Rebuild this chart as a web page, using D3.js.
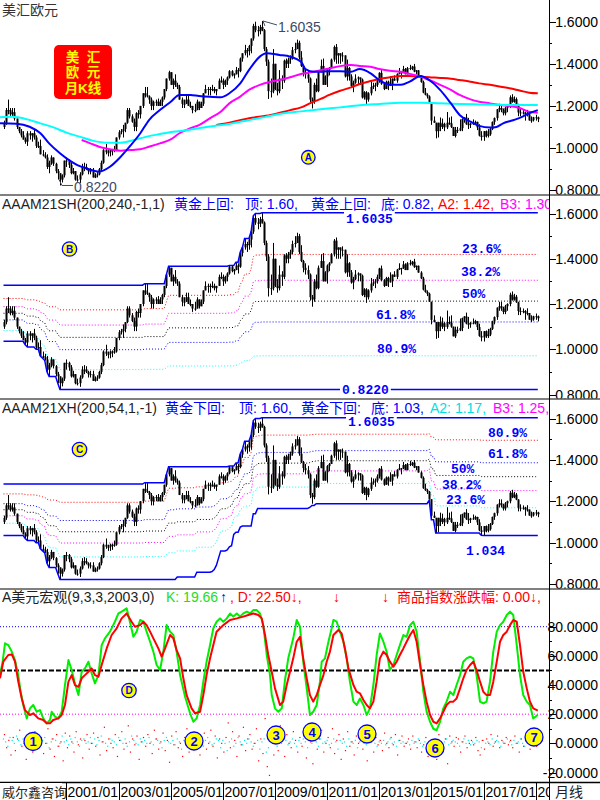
<!DOCTYPE html>
<html>
<head>
<meta charset="utf-8">
<script src="https://cdn.jsdelivr.net/npm/d3@7/dist/d3.min.js"></script>
<style>
html,body{margin:0;padding:0;background:#fff;}
svg{display:block;}
text{font-family:"Liberation Sans",Arial,"Noto Sans CJK SC",sans-serif;}
.mono{font-family:"Liberation Mono","DejaVu Sans Mono",monospace;font-weight:bold;}
.cjk{font-family:"Noto Sans CJK SC","Liberation Sans",sans-serif;}
</style>
</head>
<body>
<svg id="chart" width="600" height="800"></svg>
<script>
// ---------------- data ----------------
// Monthly EUR/USD bars, first bar 1998/08; each bar opens at the previous close.
const firstOpen = 1.10;
const highs = [
  1.13,1.19,1.23,1.19,1.19,
  1.19,1.14,1.10,1.09,1.08,1.05,1.08,1.08,1.07,1.09,1.06,1.03,
  1.04,0.99,0.98,0.97,0.94,0.965,0.955,0.93,0.90,0.88,0.875,0.94,
  0.955,0.945,0.93,0.905,0.89,0.87,0.885,0.925,0.93,0.925,0.905,0.905,
  0.905,0.88,0.885,0.905,0.94,0.995,1.02,0.99,0.995,0.995,1.01,1.05,
  1.085,1.09,1.11,1.12,1.19,1.19,1.16,1.14,1.17,1.18,1.20,1.26,
  1.29,1.29,1.25,1.24,1.225,1.23,1.235,1.23,1.245,1.28,1.33,1.367,
  1.36,1.33,1.35,1.31,1.30,1.24,1.23,1.25,1.25,1.22,1.20,1.21,
  1.23,1.22,1.22,1.26,1.30,1.29,1.29,1.30,1.29,1.28,1.33,1.34,
  1.33,1.325,1.34,1.37,1.37,1.355,1.385,1.38,1.43,1.45,1.49,1.475,
  1.49,1.52,1.59,1.60,1.58,1.585,1.6035,1.565,1.48,1.42,1.33,1.47,
  1.40,1.31,1.37,1.345,1.42,1.425,1.43,1.44,1.48,1.50,1.515,1.51,
  1.46,1.395,1.38,1.37,1.335,1.24,1.31,1.33,1.37,1.42,1.425,1.345,
  1.375,1.385,1.425,1.487,1.494,1.45,1.45,1.455,1.44,1.42,1.385,1.35,
  1.32,1.35,1.34,1.335,1.33,1.27,1.27,1.265,1.315,1.31,1.31,1.33,
  1.36,1.37,1.31,1.32,1.32,1.34,1.33,1.345,1.355,1.38,1.36,1.39,
  1.38,1.385,1.395,1.39,1.3995,1.37,1.37,1.345,1.32,1.285,1.26,1.25,
  1.21,1.15,1.12,1.12,1.145,1.14,1.12,1.171,1.145,1.15,1.10,1.10,
  1.10,1.136,1.14,1.146,1.162,1.143,1.12,1.136,1.13,1.125,1.113,1.08,
  1.08,1.083,1.09,1.095,1.126,1.145,1.185,1.21,1.209,1.188,1.196,1.203,
  1.25,1.2555,1.245,1.24,1.21,1.185,1.18,1.173,1.181,1.16,1.15,1.148,
  1.158,1.149
];
const lows = [
  1.09,1.11,1.16,1.15,1.15,
  1.13,1.09,1.07,1.05,1.04,1.02,1.01,1.04,1.03,1.04,1.00,1.00,
  0.97,0.96,0.95,0.90,0.88,0.92,0.915,0.88,0.85,0.822,0.836,0.86,
  0.91,0.905,0.875,0.875,0.845,0.84,0.834,0.87,0.89,0.895,0.875,0.875,
  0.86,0.857,0.86,0.87,0.89,0.925,0.97,0.96,0.96,0.965,0.98,0.985,
  1.04,1.065,1.05,1.075,1.115,1.14,1.12,1.08,1.08,1.14,1.14,1.19,
  1.24,1.24,1.21,1.18,1.18,1.20,1.20,1.20,1.20,1.23,1.27,1.32,
  1.30,1.28,1.29,1.28,1.23,1.19,1.19,1.21,1.20,1.19,1.165,1.17,
  1.18,1.18,1.19,1.20,1.26,1.25,1.25,1.27,1.26,1.25,1.28,1.31,
  1.28,1.29,1.30,1.33,1.34,1.33,1.35,1.335,1.36,1.41,1.44,1.43,
  1.44,1.45,1.51,1.55,1.53,1.54,1.555,1.46,1.39,1.233,1.24,1.26,
  1.275,1.25,1.26,1.28,1.31,1.38,1.38,1.40,1.42,1.45,1.47,1.42,
  1.385,1.34,1.33,1.31,1.215,1.188,1.21,1.265,1.265,1.36,1.30,1.30,
  1.29,1.345,1.38,1.41,1.40,1.40,1.40,1.41,1.335,1.32,1.32,1.29,
  1.265,1.305,1.30,1.30,1.235,1.23,1.205,1.22,1.25,1.28,1.27,1.29,
  1.31,1.30,1.275,1.28,1.275,1.295,1.275,1.32,1.31,1.35,1.33,1.355,
  1.35,1.35,1.37,1.37,1.36,1.35,1.338,1.31,1.26,1.25,1.235,1.21,
  1.11,1.12,1.046,1.05,1.08,1.09,1.08,1.09,1.11,1.095,1.057,1.05,
  1.071,1.08,1.08,1.12,1.11,1.09,1.095,1.11,1.11,1.085,1.055,1.035,
  1.034,1.05,1.05,1.058,1.085,1.11,1.13,1.17,1.17,1.155,1.155,1.17,
  1.19,1.215,1.215,1.205,1.151,1.151,1.159,1.13,1.15,1.13,1.12,1.126,
  1.13,1.123
];
const closes = [
  1.12,1.18,1.18,1.16,1.17,
  1.14,1.10,1.08,1.06,1.04,1.03,1.07,1.06,1.07,1.05,1.01,1.01,
  0.97,0.965,0.955,0.91,0.93,0.955,0.925,0.89,0.88,0.85,0.87,0.94,
  0.94,0.92,0.88,0.89,0.85,0.85,0.875,0.91,0.91,0.90,0.89,0.89,
  0.86,0.87,0.875,0.90,0.93,0.99,0.98,0.98,0.99,0.99,0.99,1.05,
  1.075,1.08,1.09,1.12,1.18,1.15,1.125,1.10,1.165,1.16,1.20,1.26,
  1.25,1.245,1.23,1.20,1.22,1.22,1.20,1.22,1.24,1.28,1.33,1.36,
  1.30,1.32,1.30,1.29,1.23,1.21,1.21,1.23,1.20,1.20,1.18,1.18,
  1.22,1.19,1.21,1.26,1.28,1.28,1.28,1.28,1.27,1.28,1.32,1.32,
  1.30,1.32,1.335,1.365,1.345,1.35,1.37,1.365,1.425,1.45,1.465,1.46,
  1.485,1.52,1.58,1.56,1.555,1.575,1.56,1.47,1.41,1.27,1.27,1.40,
  1.28,1.27,1.33,1.32,1.415,1.40,1.42,1.43,1.465,1.47,1.50,1.43,
  1.39,1.36,1.35,1.33,1.23,1.22,1.30,1.27,1.36,1.39,1.30,1.34,
  1.37,1.38,1.42,1.48,1.44,1.45,1.44,1.44,1.34,1.38,1.34,1.295,
  1.31,1.33,1.335,1.325,1.24,1.265,1.23,1.26,1.29,1.295,1.30,1.32,
  1.357,1.305,1.28,1.315,1.30,1.30,1.33,1.32,1.352,1.359,1.359,1.375,
  1.35,1.38,1.377,1.387,1.363,1.369,1.339,1.313,1.263,1.253,1.245,1.21,
  1.13,1.12,1.08,1.12,1.10,1.115,1.098,1.12,1.117,1.10,1.057,1.086,
  1.083,1.094,1.138,1.145,1.113,1.11,1.117,1.116,1.124,1.098,1.059,1.052,
  1.08,1.058,1.065,1.09,1.124,1.142,1.184,1.19,1.18,1.165,1.19,1.20,
  1.241,1.219,1.232,1.208,1.169,1.168,1.169,1.16,1.16,1.131,1.132,1.146,
  1.145,1.137
];

// Extremes carried in from the bars before the first one shown
const priorHigh = 1.283;
const priorLow = 1.035;

// Moving averages on the monthly chart: [bar index, value]
const maBlue = [[-1.6,1.117],[6,1.115],[12,1.101],[17,1.07],[21,1.022],[26,0.975],[29,0.951],[34,0.919],[38,0.904],[44,0.888],[49,0.911],[54,0.959],[58,1.006],[63,1.07],[67,1.133],[72,1.18],[77,1.22],[81,1.252],[86,1.252],[90,1.247],[95,1.243],[100,1.241],[104,1.26],[109,1.307],[113,1.37],[118,1.434],[121,1.45],[127,1.442],[132,1.434],[137,1.41],[139,1.375],[143,1.362],[146,1.362],[149,1.365],[155,1.365],[160,1.362],[164,1.375],[169,1.355],[173,1.323],[178,1.30],[183,1.30],[187,1.315],[192,1.342],[196,1.323],[201,1.276],[206,1.212],[210,1.157],[215,1.125],[219,1.105],[224,1.097],[227,1.10],[230,1.117],[235,1.133],[239,1.149],[242,1.165],[246,1.18]];
const maMagenta = [[36,1.038],[40,1.022],[44,1.006],[49,0.994],[54,0.987],[58,0.99],[63,0.994],[67,1.006],[72,1.022],[77,1.041],[81,1.07],[86,1.094],[90,1.109],[95,1.141],[100,1.172],[104,1.212],[109,1.244],[113,1.276],[118,1.30],[123,1.315],[127,1.323],[132,1.336],[137,1.352],[141,1.358],[146,1.37],[150,1.378],[155,1.389],[160,1.394],[164,1.39],[169,1.386],[173,1.375],[178,1.367],[183,1.362],[187,1.352],[192,1.339],[196,1.323],[201,1.30],[206,1.276],[210,1.252],[215,1.231],[219,1.22],[224,1.212],[229,1.204],[233,1.20],[238,1.189],[242,1.172],[246,1.168]];
const maRed = [[98,1.109],[104,1.12],[113,1.141],[123,1.157],[132,1.18],[137,1.193],[141,1.212],[146,1.233],[150,1.252],[155,1.272],[160,1.288],[164,1.304],[169,1.318],[173,1.328],[178,1.336],[183,1.342],[187,1.342],[192,1.339],[196,1.336],[201,1.333],[206,1.329],[210,1.323],[215,1.315],[219,1.307],[224,1.30],[229,1.291],[233,1.284],[238,1.272],[242,1.263],[246,1.26]];
const maCyan = [[-1.6,1.146],[4,1.148],[11,1.136],[17,1.117],[23,1.098],[29,1.073],[35,1.054],[41,1.035],[48,1.025],[54,1.025],[60,1.038],[66,1.054],[72,1.066],[78,1.077],[85,1.085],[91,1.096],[97,1.105],[103,1.113],[109,1.125],[115,1.136],[121,1.149],[127,1.162],[137,1.174],[146,1.184],[155,1.193],[164,1.203],[173,1.209],[183,1.215],[192,1.215],[201,1.212],[210,1.209],[219,1.207],[229,1.205],[238,1.204],[246,1.204]];

// 美元宏观 oscillator: K and D, [bar index, value]
const kLine = [[-1.6,47],[-0.4,56],[0.7,68.6],[2.2,67.4],[3.8,62.9],[5.3,57.1],[6.8,46.8],[7.9,35.4],[9.1,26.3],[10.7,17.1],[12.2,24],[13.7,26.3],[15.3,21.7],[16.8,22.8],[18.3,17.1],[19.9,13.7],[21.4,16],[22.2,21.7],[23.7,18.3],[25.2,17.1],[26.8,21.7],[28.3,40],[29.9,57.1],[31.4,50.3],[32.9,41.1],[34.5,33.1],[36,49.1],[37.5,51.4],[39.1,56],[40.6,48],[42.1,41.1],[43.7,46.8],[45.2,67.4],[46.7,72],[49,76.6],[51.3,83.4],[52.9,89.1],[54.4,90.3],[56.7,92.6],[58.2,83.4],[59.8,73.1],[61.3,76.6],[62.9,84.6],[64.4,83.4],[65.9,76.6],[67.5,69.7],[69,62.9],[70.5,53.7],[72.1,50.3],[73.6,62.9],[75.1,81.1],[76.7,76.6],[78.2,74.3],[79.7,62.9],[81.3,46.8],[83.6,31.9],[85.9,20.6],[87.4,14.8],[88.9,17.1],[90.5,26.3],[92,42.3],[93.5,56],[95.1,67.4],[96.6,78.9],[98.1,83.4],[99.7,85.7],[101.2,83.4],[102.8,85.7],[104.3,89.1],[105.8,86.9],[107.4,89.1],[108.9,86.9],[110.4,89.1],[112,90.3],[113.5,89.1],[115,91.4],[116.6,91.4],[118.1,89.1],[119.6,81.1],[121.2,60.6],[122.7,46.8],[123.5,33.1],[125,24],[126.5,21.7],[128.1,24],[129.6,43.4],[131.1,58.3],[133.4,72],[135,84.6],[136.5,80],[138,56],[139.6,37.7],[141.1,19.4],[142.6,21.7],[144.2,26.3],[145.7,42.3],[146.5,56],[148,58.3],[149.6,69.7],[151.1,78.9],[151.9,84.6],[153.4,83.4],[154.9,76.6],[156.5,69.7],[158,58.3],[159.5,42.3],[161.1,28.6],[162.6,26.3],[164.1,30.8],[165.7,26.3],[167.2,19.4],[168.7,24],[170.3,40],[171.8,60.6],[173.3,75.4],[174.9,69.7],[176.4,62.9],[177.9,50.3],[179.5,53.7],[181,60.6],[182.5,67.4],[184.1,74.3],[185.6,73.1],[187.2,81.1],[188.7,83.4],[190.2,76.6],[191.8,56],[193.3,35.4],[194.8,21.7],[196.4,14.8],[197.9,10],[199.4,9],[201,14.8],[202.5,24],[204,28.6],[205.6,35.4],[207.1,33.1],[208.6,40],[210.2,46.8],[211.7,56],[213.2,58.3],[214.8,59.4],[216.3,58.3],[217.8,46.8],[219.4,28.6],[220.9,27.4],[222.4,28.6],[224,42.3],[225.5,62.9],[227.1,76.6],[228.6,81.1],[230.1,83.4],[231.7,88],[233.2,90.3],[234.7,88],[236.3,67.4],[237.8,46.8],[239.3,33.1],[240.9,28.6],[242.4,26.3],[243.9,17.1],[246,19.66]];
const dLine = [[-1.6,44.6],[-0.1,56],[2.2,60.6],[3.8,61],[5.3,56],[6.8,42.3],[8.4,30.8],[9.9,22.8],[12.2,19.4],[13.7,20.6],[16,17.1],[18.3,16],[19.9,13.7],[21.4,13.7],[22.9,16],[25.2,17.1],[26.8,19.4],[28.3,26.3],[29.9,42.3],[31.4,46.8],[32.9,40],[34.5,38.8],[36,44.6],[37.5,46.8],[39.1,49.1],[40.6,51.4],[42.1,46.8],[43.7,45.7],[45.2,53.7],[47.5,65.1],[49.8,74.3],[52.1,78.9],[54.4,85.7],[56.7,89.1],[59,83.4],[60.5,80],[62.9,81.1],[64.4,83.4],[65.9,81.1],[67.5,76.6],[69,72],[71.3,65.1],[72.8,59.4],[74.4,65.1],[76.7,74.3],[78.2,72],[79.7,64],[81.3,58.3],[82.8,44.6],[84.3,33.1],[86.6,24],[88.2,20.6],[90.5,21.7],[92,33.1],[93.5,46.8],[95.1,58.3],[96.6,67.4],[98.1,76.6],[99.7,78.9],[101.2,81.1],[104.3,84.6],[107.4,85.7],[110.4,86.9],[112.7,88],[115,89.1],[117.3,88],[118.9,85.7],[120.4,74.3],[121.9,60.6],[123.5,49.1],[125,37.7],[127.3,26.3],[128.8,28.6],[130.4,40],[131.9,49.1],[133.4,58.3],[135,69.7],[136.5,73],[138,58.3],[139.6,44.6],[141.1,33.1],[142.6,28.6],[144.2,33.1],[145.7,40],[147.3,46.8],[148.8,56],[150.3,62.9],[151.9,74.3],[154.2,77.7],[155.7,75.4],[157.2,65.1],[158.8,51.4],[161.1,40],[162.6,35.4],[164.1,34.3],[165.7,29.7],[167.2,26.3],[168.7,24],[170.3,28.6],[171.8,42.3],[173.3,58.3],[174.9,62.9],[176.4,60.6],[177.9,56],[179.5,52.6],[181,56],[182.5,60.6],[184.1,65.1],[185.6,69.7],[187.2,74.3],[188.7,77.7],[190.2,69.7],[191.8,53.7],[193.3,40],[194.8,28.6],[196.4,19.4],[197.9,14.8],[199.4,13.7],[201,17.1],[202.5,21.7],[204,26.3],[205.6,28.6],[207.1,28.6],[208.6,30.8],[210.2,37.7],[211.7,44.6],[213.2,50.3],[214.8,53.7],[216.3,56],[217.8,50.3],[219.4,42.3],[220.9,35.4],[222.4,33.1],[224,33.1],[225.5,42.3],[227.1,56],[228.6,69.7],[230.1,74.3],[231.7,76.6],[233.2,81.1],[234.7,84.6],[236.3,83.4],[237.8,67.4],[239.3,49.1],[240.9,37.7],[242.4,28.6],[243.9,24],[246,22.5]];

// Monthly scatter values in the oscillator pane (one per bar)
const cyanDots = [
  3,1,-2,4,2,
  0,5,2,-1,3,1,4,-2,2,0,3,1,
  -1,2,4,0,-3,1,3,2,-2,0,5,1,
  2,-1,3,0,4,1,-2,2,3,0,1,4,
  0,3,-1,2,5,1,0,-2,3,2,1,-1,
  4,2,0,3,-2,1,5,2,0,-1,3,1,
  2,0,4,1,-1,3,2,0,-3,2,4,1,
  0,2,-1,3,1,-4,2,0,3,1,-2,0,
  1,3,0,-2,2,4,1,-1,0,3,2,-3,
  2,0,-5,1,3,-2,0,4,1,-1,2,0,
  3,1,-2,0,2,-4,1,3,-6,-3,2,5,
  1,-2,3,0,4,2,-1,1,3,0,-2,2,
  0,3,1,-3,2,0,4,1,-2,3,0,1,
  2,-1,0,3,1,-4,2,0,1,-2,3,1,
  0,2,-3,1,4,0,-1,2,1,3,0,-2,
  1,0,2,-1,1,3,0,1,-2,2,0,1,
  0,1,-1,2,0,1,3,0,-2,1,0,-4,
  -3,1,-5,2,0,-2,1,3,-1,0,2,1,
  0,-2,1,3,0,2,-1,1,0,2,1,-3,
  2,0,1,-1,3,0,2,1,-2,1,0,3,
  1,-1,2,0,1,3,0,-2,1,2,0,1,
  -1,0
];
const redDots = [
  6,-3,2,-8,4,
  -5,3,9,-2,0,-11,5,1,-6,8,-3,2,
  4,-7,0,10,-4,3,-9,6,-2,1,-12,7,
  -3,5,1,-6,8,-1,3,-10,2,6,-4,0,
  7,-2,4,-8,1,11,-5,3,0,-3,6,-9,
  2,8,-4,0,12,-6,3,-1,5,-11,1,4,
  -2,6,0,-7,9,3,-4,1,7,-5,2,-13,
  5,-1,8,-3,0,-9,4,10,-6,2,-2,6,
  1,-8,3,7,-4,0,9,-2,5,-10,3,0,
  -6,4,14,-3,8,2,-9,5,-1,11,-5,3,
  6,-4,0,10,-12,3,-7,17,-16,-22,4,-8,
  9,-5,12,3,-9,6,0,-3,8,2,-6,4,
  -2,7,-10,5,1,-14,8,-4,3,9,-6,0,
  4,-3,10,-7,2,6,-11,3,-5,8,-2,1,
  -8,5,0,9,-4,3,-12,6,1,-6,4,-1,
  2,-5,7,0,-3,4,-1,6,-8,2,5,-2,
  0,3,-4,5,1,-3,2,-6,-1,4,-9,-2,
  -7,2,-11,6,0,-4,3,-14,5,1,-2,4,
  3,-6,1,5,-3,0,2,-1,4,-5,-8,2,
  -4,3,0,6,-2,1,5,-3,2,0,4,-1,
  2,-3,5,0,-6,3,-2,4,1,-4,0,3,
  -2,0
];

// Time axis
const dateLabels = ["2001/01","2003/01","2005/01","2007/01","2009/01","2011/01","2013/01","2015/01","2017/01","2019/01"];
const firstBar = {year:1998, month:8};

// Golden-section ratios
const fibRatios = [0.236, 0.382, 0.5, 0.618, 0.809];
const fibText = ["23.6%","38.2%","50%","61.8%","80.9%"];

// ---------------- drawing ----------------
const svg = d3.select("#chart");
const AX = 549;
const BLUE = "#0000ff", RED = "#ff0000", MAG = "#ff00ff", CYAN = "#00ffff";
const n = closes.length;
const bars = closes.map((c, i) => ({ i, o: i === 0 ? firstOpen : closes[i - 1], h: highs[i], l: lows[i], c }));

const x = d3.scaleLinear().domain([0, n - 1]).range([3.5, 3.5 + (n - 1) * 2.172]);

const panels = [
  { top: 0, bottom: 194.5, y: d3.scaleLinear().domain([0.8, 1.6]).range([190.1, 21.7]),
    ticks: [0.8, 1.0, 1.2, 1.4, 1.6], minor: [0.9, 1.1, 1.3, 1.5] },
  { top: 195.5, bottom: 398.5, y: d3.scaleLinear().domain([0.8, 1.6]).range([394.5, 213.5]),
    ticks: [0.8, 1.0, 1.2, 1.4, 1.6], minor: [0.9, 1.1, 1.3, 1.5] },
  { top: 399.5, bottom: 588.5, y: d3.scaleLinear().domain([0.8, 1.6]).range([584, 418.5]),
    ticks: [0.8, 1.0, 1.2, 1.4, 1.6], minor: [0.9, 1.1, 1.3, 1.5] },
  { top: 589.5, bottom: 782, y: d3.scaleLinear().domain([-20, 80]).range([772.5, 626.7]),
    ticks: [-20, 0, 20, 40, 60, 80], minor: [-10, 10, 30, 50, 70] }
];

const defs = svg.append("defs");
panels.forEach((p, k) => {
  defs.append("clipPath").attr("id", "plot" + k).append("rect")
    .attr("x", 0).attr("y", p.top).attr("width", AX).attr("height", p.bottom - p.top);
  defs.append("clipPath").attr("id", "axis" + k).append("rect")
    .attr("x", 530).attr("y", p.top).attr("width", 70).attr("height", p.bottom - p.top);
});
defs.append("clipPath").attr("id", "leftArea").append("rect")
  .attr("x", 0).attr("y", 0).attr("width", AX).attr("height", 800);

function candles(g, y) {
  g.append("g").selectAll("line").data(bars).join("line")
    .attr("x1", d => Math.round(x(d.i)) + 0.5).attr("x2", d => Math.round(x(d.i)) + 0.5)
    .attr("y1", d => y(d.h)).attr("y2", d => y(d.l))
    .attr("stroke", "#000").attr("stroke-width", 1);
  g.append("g").selectAll("rect").data(bars).join("rect")
    .attr("x", d => Math.round(x(d.i)) - 0.5).attr("width", 2)
    .attr("y", d => y(Math.max(d.o, d.c)))
    .attr("height", d => Math.max(1, Math.abs(y(d.o) - y(d.c))))
    .attr("fill", "#000");
}

function pairLine(g, y, data, color, width, curve) {
  g.append("path").datum(data)
    .attr("d", d3.line().x(d => x(d[0])).y(d => y(d[1])).curve(curve || d3.curveMonotoneX))
    .attr("fill", "none").attr("stroke", color).attr("stroke-width", width)
    .attr("stroke-linejoin", "round");
}

function seriesLine(g, y, values, color, width, dash) {
  const p = g.append("path").datum(values)
    .attr("d", d3.line().x((d, i) => x(i)).y(d => y(d)))
    .attr("fill", "none").attr("stroke", color).attr("stroke-width", width);
  if (dash) p.attr("stroke-dasharray", dash);
}

function rolling(values, len, prior, pick) {
  return values.map((_, i) => {
    const win = values.slice(Math.max(0, i - len + 1), i + 1);
    if (i < len - 1) win.push(prior);
    return pick(win);
  });
}

function circleMark(cx, cy, r, label, fs) {
  const g = svg.append("g");
  g.append("circle").attr("cx", cx).attr("cy", cy).attr("r", r)
    .attr("fill", "#ffff00").attr("stroke", BLUE).attr("stroke-width", 1.3);
  g.append("text").attr("x", cx).attr("y", cy).attr("dy", "0.36em")
    .attr("text-anchor", "middle").attr("font-size", fs).attr("font-weight", "bold")
    .attr("fill", BLUE).text(label);
}

function monoLabel(g, px, py, txt, bg) {
  const w = txt.length * 7.8;
  if (bg) g.append("rect").attr("x", px - 2).attr("y", py - 6).attr("width", w + 4).attr("height", 12).attr("fill", "#fff");
  g.append("text").attr("class", "mono").attr("x", px).attr("y", py).attr("dy", "0.35em")
    .attr("font-size", 13).attr("fill", BLUE).text(txt);
}

function header(yb, parts) {
  const t = svg.append("text").attr("y", yb).attr("font-size", 14).attr("clip-path", "url(#leftArea)");
  parts.forEach(p => t.append("tspan").attr("x", p.x).attr("fill", p.c).text(p.t));
}

// ---- panel 1: monthly candles with moving averages ----
{
  const p = panels[0], g = svg.append("g").attr("clip-path", "url(#plot0)");
  candles(g, p.y);
  pairLine(g, p.y, maRed, RED, 2);
  pairLine(g, p.y, maMagenta, MAG, 2);
  pairLine(g, p.y, maCyan, CYAN, 2);
  pairLine(g, p.y, maBlue, BLUE, 2);

  const hiIdx = d3.maxIndex(highs), loIdx = d3.minIndex(lows);
  const hx = x(hiIdx), hy = p.y(highs[hiIdx]);
  const lx = x(loIdx), ly = p.y(lows[loIdx]);
  svg.append("path").attr("d", `M${hx + 15},${hy + 4} L${hx + 1},${hy} L${hx + 3},${hy + 5}`)
    .attr("fill", "none").attr("stroke", "#3c4a66").attr("stroke-width", 1);
  svg.append("text").attr("x", hx + 16).attr("y", hy + 11).attr("font-size", 14)
    .attr("fill", "#3c4a66").text(highs[hiIdx].toFixed(4));
  svg.append("path").attr("d", `M${lx - 1},${ly - 6} L${lx + 2},${ly} L${lx + 13},${ly}`)
    .attr("fill", "none").attr("stroke", "#3c4a66").attr("stroke-width", 1);
  svg.append("text").attr("x", lx + 14).attr("y", ly + 6.5).attr("font-size", 14)
    .attr("fill", "#3c4a66").text(lows[loIdx].toFixed(4));

  svg.append("text").attr("class", "cjk").attr("x", 2).attr("y", 15).attr("font-size", 14)
    .attr("fill", "#333").text("美汇欧元");

  // red caption box: 美汇 / 欧元 / 月K线
  svg.append("rect").attr("x", 54).attr("y", 45).attr("width", 58).attr("height", 54).attr("rx", 5)
    .attr("fill", "#ff0000");
  const bt = svg.append("g").attr("fill", "#ffff00").attr("font-weight", "bold")
    .attr("font-size", 13.5).attr("text-anchor", "middle");
  bt.append("text").attr("x", 83).attr("y", 61.5).attr("xml:space", "preserve").text("美  汇");
  bt.append("text").attr("x", 83).attr("y", 77).attr("xml:space", "preserve").text("欧  元");
  bt.append("text").attr("x", 83).attr("y", 92.5).text("月K线");

  circleMark(308.3, 157.3, 6.8, "A", 10);
}

// ---- panel 2: retracement from the top (黄金上回) ----
const top2 = rolling(highs, 200, priorHigh, d3.max);
const bot2 = rolling(lows, 240, priorLow, d3.min);
const lv2 = fibRatios.map(r => top2.map((t, i) => t - r * (t - bot2[i])));
{
  const p = panels[1], g = svg.append("g").attr("clip-path", "url(#plot1)");
  const cols = [RED, MAG, "#000", BLUE, CYAN];
  lv2.forEach((v, k) => seriesLine(g, p.y, v, cols[k], 1, "1,2"));
  candles(g, p.y);
  seriesLine(g, p.y, top2, BLUE, 1.5);
  seriesLine(g, p.y, bot2, BLUE, 1.5);
  const last = n - 1;
  monoLabel(g, 346, 218, top2[last].toFixed(4), true);
  monoLabel(g, 342, 389, bot2[last].toFixed(4), true);
  monoLabel(g, 462, 248, fibText[0]);
  monoLabel(g, 461, 271, fibText[1]);
  monoLabel(g, 462, 293, fibText[2]);
  monoLabel(g, 376, 314, fibText[3]);
  monoLabel(g, 377, 348, fibText[4]);
  circleMark(69.5, 249, 7.2, "B", 10);
  header(208.5, [
    { x: 2, c: "#222", t: "AAAM21SH(200,240,-1,1)" },
    { x: 174, c: BLUE, t: "黄金上回:" },
    { x: 245, c: BLUE, t: "顶: " + top2[last].toFixed(2) + "," },
    { x: 311, c: BLUE, t: "黄金上回:" },
    { x: 381, c: BLUE, t: "底: " + bot2[last].toFixed(2) + "," },
    { x: 438, c: RED, t: "A2: " + lv2[0][last].toFixed(2) + "," },
    { x: 500, c: MAG, t: "B3: " + lv2[1][last].toFixed(2) + "," }
  ]);
}

// ---- panel 3: retracement from the bottom (黄金下回) ----
const top3 = rolling(highs, 200, priorHigh, d3.max);
const bot3 = rolling(lows, 54, priorLow, d3.min);
const lv3 = fibRatios.map(r => bot3.map((b, i) => b + r * (top3[i] - b)));
{
  const p = panels[2], g = svg.append("g").attr("clip-path", "url(#plot2)");
  const cols = [CYAN, MAG, "#000", BLUE, RED];
  lv3.forEach((v, k) => seriesLine(g, p.y, v, cols[k], 1, "1,2"));
  candles(g, p.y);
  seriesLine(g, p.y, top3, BLUE, 1.5);
  seriesLine(g, p.y, bot3, BLUE, 1.5);
  const last = n - 1;
  monoLabel(g, 348, 421, top3[last].toFixed(4), true);
  monoLabel(g, 466, 550, bot3[last].toFixed(3));
  monoLabel(g, 488, 432, fibText[4]);
  monoLabel(g, 488, 453, fibText[3]);
  monoLabel(g, 451, 468.5, fibText[2]);
  monoLabel(g, 442, 484, fibText[1]);
  monoLabel(g, 446, 499, fibText[0]);
  circleMark(79.5, 449.5, 7.2, "C", 10);
  header(412.5, [
    { x: 2, c: "#222", t: "AAAM21XH(200,54,1,-1)" },
    { x: 165, c: BLUE, t: "黄金下回:" },
    { x: 239, c: BLUE, t: "顶: " + top3[last].toFixed(2) + "," },
    { x: 301, c: BLUE, t: "黄金下回:" },
    { x: 371, c: BLUE, t: "底: " + bot3[last].toFixed(2) + "," },
    { x: 430, c: "#00e0e0", t: "A2: " + lv3[0][last].toFixed(2) + "," },
    { x: 493, c: MAG, t: "B3: " + lv3[1][last].toFixed(2) + "," }
  ]);
}

// ---- panel 4: 美元宏观 oscillator ----
{
  const p = panels[3], g = svg.append("g").attr("clip-path", "url(#plot3)");
  const hline = (v, col, w, dash) => g.append("line").attr("x1", 0).attr("x2", AX)
    .attr("y1", p.y(v)).attr("y2", p.y(v)).attr("stroke", col).attr("stroke-width", w).attr("stroke-dasharray", dash);
  hline(80, BLUE, 1, "1,2");
  hline(20, MAG, 1, "1,2");
  hline(50, "#000", 2, "5,2");
  g.append("g").selectAll("rect").data(cyanDots).join("rect")
    .attr("x", (d, i) => x(i) - 0.6).attr("y", d => p.y(d) - 0.6).attr("width", 1.2).attr("height", 1.2)
    .attr("fill", "#00e8e8");
  g.append("g").selectAll("rect").data(redDots).join("rect")
    .attr("x", (d, i) => x(i) + 0.4).attr("y", d => p.y(d) - 0.6).attr("width", 1.2).attr("height", 1.2)
    .attr("fill", RED);
  pairLine(g, p.y, kLine, "#00ee00", 2, d3.curveLinear);
  pairLine(g, p.y, dLine, RED, 2, d3.curveLinear);

  circleMark(129, 690.5, 7.2, "D", 10);
  [[33, 741.5, "1"], [194, 741, "2"], [276, 735, "3"], [312, 732, "4"], [367, 734, "5"], [435, 748, "6"], [534, 737, "7"]]
    .forEach(c => circleMark(c[0], c[1], 9, c[2], 13));

  const kLast = kLine[kLine.length - 1][1], dLast = dLine[dLine.length - 1][1];
  header(602, [
    { x: 2, c: "#222", t: "A美元宏观(9,3,3,2003,0)" },
    { x: 166, c: "#22dd22", t: "K: " + kLast.toFixed(2) },
    { x: 220, c: BLUE, t: "↑" },
    { x: 230, c: RED, t: ", D: " + dLast.toFixed(2) + "↓," },
    { x: 333, c: RED, t: "↓" },
    { x: 382, c: RED, t: "↓" },
    { x: 397, c: RED, t: "商品指数涨跌幅: " + redDots[n - 1].toFixed(2) + "↓," }
  ]);
}

// ---- separators, right axis ----
[195, 399, 589].forEach(yy => svg.append("line").attr("x1", 0).attr("x2", 600)
  .attr("y1", yy).attr("y2", yy).attr("stroke", "#000").attr("stroke-width", 1));
svg.append("line").attr("x1", 0).attr("x2", 600).attr("y1", 782.5).attr("y2", 782.5)
  .attr("stroke", "#000").attr("stroke-width", 1.5);
svg.append("line").attr("x1", AX + 0.5).attr("x2", AX + 0.5).attr("y1", 0).attr("y2", 800)
  .attr("stroke", "#000").attr("stroke-width", 1);

panels.forEach((p, k) => {
  const g = svg.append("g");
  p.minor.forEach(v => g.append("line").attr("x1", AX).attr("x2", AX + 3)
    .attr("y1", Math.round(p.y(v)) + 0.5).attr("y2", Math.round(p.y(v)) + 0.5).attr("stroke", "#000"));
  p.ticks.forEach(v => {
    const yy = p.y(v);
    g.append("line").attr("x1", AX).attr("x2", AX + 7)
      .attr("y1", Math.round(yy) + 0.5).attr("y2", Math.round(yy) + 0.5).attr("stroke", "#000");
    const t = g.append("text").attr("x", 598).attr("y", yy + 5).attr("text-anchor", "end")
      .attr("font-size", 14).attr("fill", "#000").text(v.toFixed(4));
    // labels that run past the pane edge are trimmed to the pane
    if (yy + 6 > p.bottom || yy - 8 < p.top) t.attr("clip-path", `url(#axis${k})`);
  });
});

// ---- time axis ----
{
  const g = svg.append("g").attr("clip-path", "url(#leftArea)");
  dateLabels.forEach(lbl => {
    const [yy, mm] = lbl.split("/").map(Number);
    const idx = (yy - firstBar.year) * 12 + (mm - firstBar.month);
    const tx = Math.round(x(idx)) + 0.5;
    g.append("line").attr("x1", tx).attr("x2", tx).attr("y1", 783).attr("y2", 800).attr("stroke", "#000");
    g.append("text").attr("x", tx + 1).attr("y", 797).attr("font-size", 14).attr("fill", "#000").text(lbl);
  });
  svg.append("rect").attr("x", 0).attr("y", 783).attr("width", 62).attr("height", 17).attr("fill", "#fff");
  svg.append("text").attr("class", "cjk").attr("x", 2).attr("y", 797).attr("font-size", 13).attr("fill", "#222").text("威尔鑫咨询");
  svg.append("text").attr("class", "cjk").attr("x", 555).attr("y", 797).attr("font-size", 14).attr("fill", "#222").text("月线");
}
</script>
</body>
</html>
